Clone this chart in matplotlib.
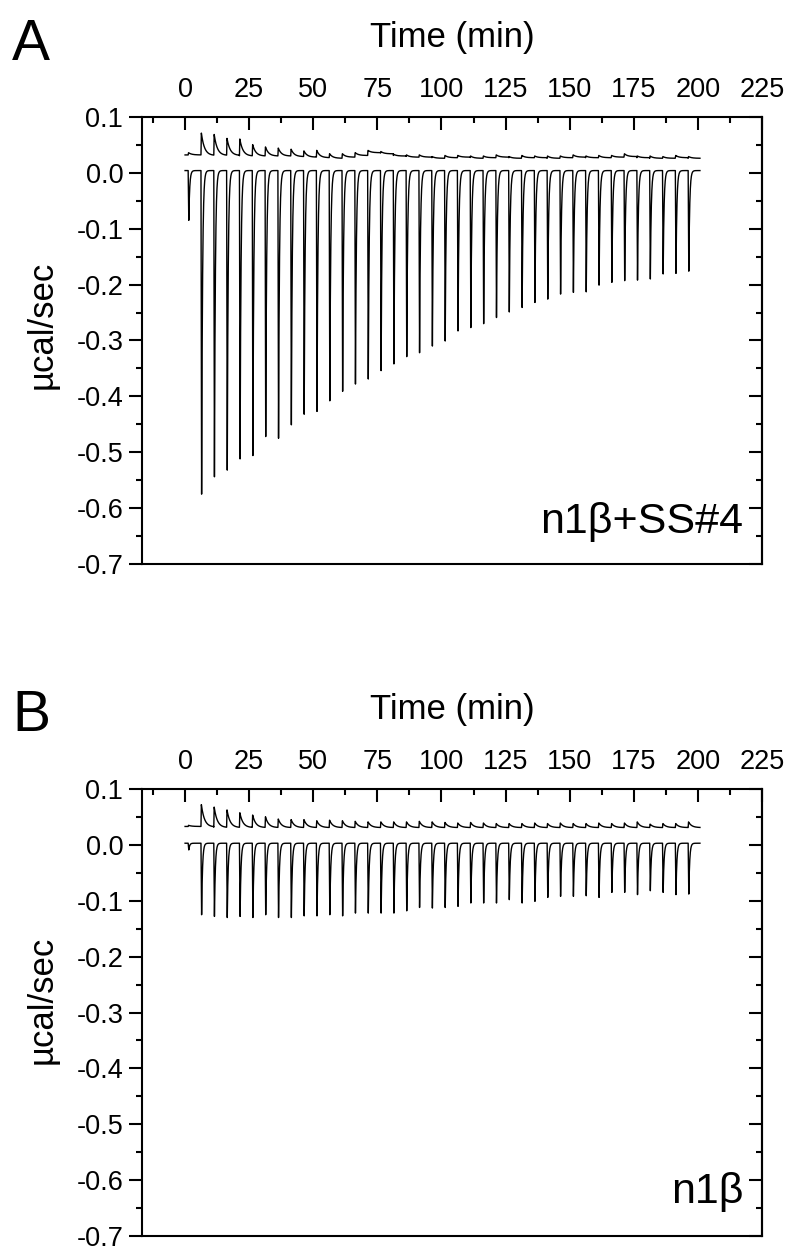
import numpy as np
import matplotlib.pyplot as plt
from matplotlib.ticker import MultipleLocator, FixedLocator, FixedFormatter

plt.rcParams['font.family'] = ['Liberation Sans', 'DejaVu Sans']
plt.rcParams['axes.unicode_minus'] = False

# injection times (min), same schedule in both runs
inj_times = [1.2, 6.2, 11.2, 16.2, 21.2, 26.2, 31.2, 36.2, 41.2, 46.2,
             51.2, 56.2, 61.2, 66.2, 71.2, 76.2, 81.2, 86.2, 91.2, 96.2,
             101.2, 106.2, 111.2, 116.2, 121.2, 126.2, 131.2, 136.2, 141.2, 146.2,
             151.2, 156.2, 161.2, 166.2, 171.2, 176.2, 181.2, 186.2, 191.2, 196.2]
t_end = 200.8

# panel A: n1beta + SS#4, spike minima (ucal/sec)
depth_a = [-0.089, -0.579, -0.548, -0.536, -0.516, -0.510, -0.476, -0.479, -0.455, -0.436,
           -0.431, -0.412, -0.395, -0.382, -0.373, -0.358, -0.346, -0.333, -0.326, -0.314,
           -0.305, -0.287, -0.281, -0.274, -0.263, -0.253, -0.245, -0.236, -0.230, -0.221,
           -0.218, -0.217, -0.205, -0.200, -0.197, -0.196, -0.194, -0.185, -0.184, -0.180]
# reference trace A (shifted up), peak heights and baseline per injection interval
ref_peak_a = [0.004, 0.040, 0.037, 0.030, 0.030, 0.020, 0.016, 0.014, 0.013, 0.011,
              0.013, 0.008, 0.006, 0.005, 0.004, 0.004, 0.003, 0.004, 0.004, 0.003,
              0.004, 0.003, 0.004, 0.003, 0.004, 0.003, 0.004, 0.003, 0.004, 0.003,
              0.004, 0.003, 0.004, 0.003, 0.005, 0.003, 0.004, 0.003, 0.004, 0.003]
ref_base_a = [0.032, 0.031, 0.031, 0.031, 0.030, 0.030, 0.030, 0.030, 0.029, 0.028,
              0.027, 0.026, 0.028, 0.031, 0.036, 0.034, 0.030, 0.028, 0.028, 0.026,
              0.027, 0.028, 0.026, 0.027, 0.028, 0.026, 0.027, 0.027, 0.026, 0.027,
              0.028, 0.027, 0.027, 0.028, 0.029, 0.027, 0.026, 0.026, 0.027, 0.026]
main_base_a = 0.004

# panel B: n1beta alone
depth_b = [-0.012, -0.128, -0.131, -0.133, -0.131, -0.133, -0.128, -0.133, -0.133, -0.130,
           -0.130, -0.128, -0.130, -0.125, -0.125, -0.125, -0.125, -0.121, -0.115, -0.116,
           -0.115, -0.113, -0.107, -0.107, -0.107, -0.101, -0.107, -0.104, -0.097, -0.095,
           -0.095, -0.094, -0.097, -0.088, -0.088, -0.092, -0.085, -0.088, -0.092, -0.091]
ref_peak_b = [0.002, 0.040, 0.036, 0.031, 0.026, 0.022, 0.019, 0.015, 0.014, 0.014,
              0.012, 0.013, 0.012, 0.011, 0.010, 0.010, 0.010, 0.010, 0.011, 0.010,
              0.009, 0.008, 0.009, 0.008, 0.007, 0.007, 0.007, 0.008, 0.007, 0.008,
              0.007, 0.007, 0.008, 0.007, 0.008, 0.010, 0.006, 0.007, 0.007, 0.010]
ref_base_b = [0.033, 0.032, 0.031, 0.031, 0.031, 0.031, 0.031, 0.031, 0.031, 0.031,
              0.031, 0.031, 0.031, 0.031, 0.031, 0.031, 0.031, 0.031, 0.031, 0.031,
              0.031, 0.031, 0.031, 0.031, 0.031, 0.031, 0.031, 0.031, 0.031, 0.031,
              0.031, 0.031, 0.031, 0.031, 0.031, 0.031, 0.031, 0.031, 0.031, 0.031]
main_base_b = 0.003

x_ticks = [0, 25, 50, 75, 100, 125, 150, 175, 200, 225]
y_ticks = [-0.7, -0.6, -0.5, -0.4, -0.3, -0.2, -0.1, 0.0, 0.1]
y_labels = ["-0.7", "-0.6", "-0.5", "-0.4", "-0.3", "-0.2", "-0.1", "0.0", "0.1"]


def thermogram(t, amps, base, rise, tau):
    # piecewise baseline plus one peak per injection
    idx = np.clip(np.searchsorted(inj_times, t) - 1, 0, len(inj_times) - 1)
    y = np.asarray(base, dtype=float)[idx] if np.ndim(base) else np.full_like(t, base)
    for t0, a in zip(inj_times, amps):
        dt = np.round(t - t0, 6)
        shape = np.where(dt < 0, 0.0,
                         np.where(dt <= rise, dt / rise,
                                  np.exp(-(dt - rise) / tau)))
        y = y + a * shape
    return y


t = np.linspace(0, t_end, 4017)

fig = plt.figure(figsize=(8, 12.6), dpi=100)

panels = [
    (0.5524, "A", 1 - 45 / 1260, 1 - 38 / 1260, 1 - 325 / 1260, "n1β+SS#4",
     1 - 522 / 1260, depth_a, ref_peak_a, ref_base_a, main_base_a),
    (0.0190, "B", 1 - 716 / 1260, 1 - 710 / 1260, 1 - 1000 / 1260, "n1β",
     1 - 1192 / 1260, depth_b, ref_peak_b, ref_base_b, main_base_b),
]

for (bottom, letter, let_y, time_y, ylab_y, name, name_y,
     depth, ref_peak, ref_base, main_base) in panels:
    ax = fig.add_axes([0.1775, bottom, 0.775, 0.3548])

    main = thermogram(t, depth, main_base, 0.25, 0.35)
    ref = thermogram(t, ref_peak, ref_base, 0.15, 1.2)
    ax.plot(t, ref, color="black", lw=1.0)
    ax.plot(t, main, color="black", lw=1.0)

    ax.set_xlim(-16.8, 225)
    ax.set_ylim(-0.7, 0.1)

    for s in ax.spines.values():
        s.set_linewidth(1.5)

    ax.xaxis.tick_top()
    ax.xaxis.set_major_locator(FixedLocator(x_ticks))
    ax.xaxis.set_minor_locator(MultipleLocator(12.5))
    ax.tick_params(axis="x", which="both", direction="in", top=True, bottom=False,
                   labeltop=True, labelbottom=False, width=1.5, labelsize=19.5, pad=10)
    ax.tick_params(axis="x", which="major", length=9.5)
    ax.tick_params(axis="x", which="minor", length=4.5)

    ax.yaxis.set_major_locator(FixedLocator(y_ticks))
    ax.yaxis.set_major_formatter(FixedFormatter(y_labels))
    ax.yaxis.set_minor_locator(MultipleLocator(0.05))
    ax.tick_params(axis="y", which="both", direction="out", left=True, right=False,
                   width=1.5, labelsize=19.5, pad=4)
    ax.tick_params(axis="y", which="major", length=9.5)
    ax.tick_params(axis="y", which="minor", length=4.5)

    # right side ticks point inward
    sec = ax.secondary_yaxis("right")
    sec.yaxis.set_major_locator(FixedLocator(y_ticks))
    sec.yaxis.set_minor_locator(MultipleLocator(0.05))
    sec.tick_params(which="both", direction="in", width=1.5, labelright=False)
    sec.tick_params(which="major", length=9.5)
    sec.tick_params(which="minor", length=4.5)
    sec.spines["right"].set_linewidth(1.5)

    ax.text(0.97, (name_y * 1260 - bottom * 1260) / (0.3548 * 1260), name,
            transform=ax.transAxes, ha="right", va="center", fontsize=31)

    fig.text(31 / 800, let_y, letter, ha="center", va="center", fontsize=41)
    fig.text(452 / 800, time_y, "Time (min)", ha="center", va="center", fontsize=25)
    fig.text(42 / 800, ylab_y, "µcal/sec", ha="center", va="center",
             rotation=90, fontsize=25)

fig.savefig("out.png", dpi=100)
